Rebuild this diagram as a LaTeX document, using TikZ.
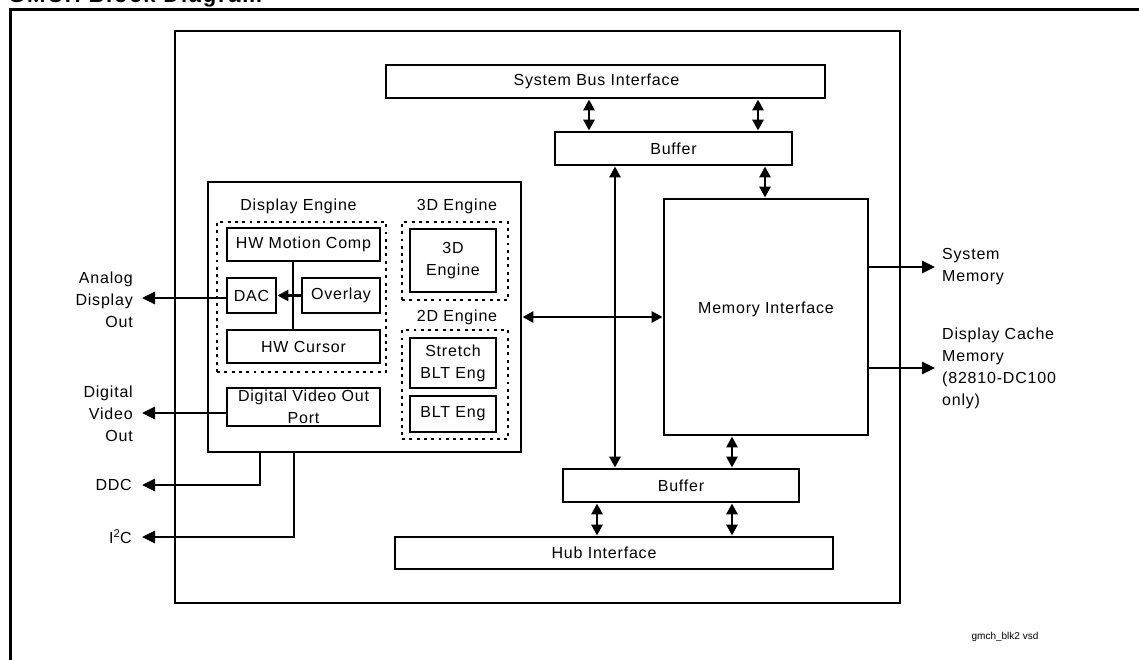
\documentclass[tikz,border=0pt]{standalone}
\usepackage{fontspec}
\setmainfont{Liberation Sans}[LetterSpace=5]
\usetikzlibrary{arrows.meta,calc}
\begin{document}
\begin{tikzpicture}[x=1pt,y=-1pt,
  lw/.style={line width=2.9pt},
  box/.style={draw, lw, rectangle, inner sep=0pt, align=center, font=\fontsize{16}{22}\selectfont},
  lab/.style={inner sep=0pt, font=\fontsize{16}{22}\selectfont},
  dotbox/.style={draw, line width=2.9pt, dash pattern=on 2.9pt off 4.4pt, rectangle, inner sep=0pt},
  arr/.style={lw, -{Triangle[length=13pt,width=12pt]}},
  dbl/.style={lw, {Triangle[length=11pt,width=11pt]}-{Triangle[length=11pt,width=11pt]}},
  sarr/.style={lw, -{Triangle[length=11pt,width=11pt]}}
]
\useasboundingbox (0,0) rectangle (1139,660);
\clip (0,0) rectangle (1139,660);
% title (cut off at top, as in the reference)
\node[anchor=base west, inner sep=0pt, font=\bfseries\fontsize{22}{22}\selectfont\addfontfeature{LetterSpace=8}] (title) at (8,2.5) {GMCH Block Diagram};
% outer frame
\draw[line width=3pt] (1150,9.5) -- (10,9.5) -- (10,670);
% chip
\node[box, minimum width=725pt, minimum height=572pt] (chip) at (537.5,317) {};
% top and bottom blocks
\node[box, minimum width=439pt, minimum height=33pt] (sbi) at (605.5,81.5) {};
\node[lab] at ($(sbi.center)+(-9,0)$) {System Bus Interface};
\node[box, minimum width=237pt, minimum height=33pt] (buf1) at (673.5,148.5) {Buffer};
\node[box, minimum width=204pt, minimum height=236pt] (mem) at (766,317) {};
\node[lab] (memlbl) at (766,309) {Memory Interface};
\node[box, minimum width=236pt, minimum height=33pt] (buf2) at (681,485.5) {Buffer};
\node[box, minimum width=438pt, minimum height=32pt] (hub) at (614,553) {};
\node[lab] at ($(hub.center)+(-10,0)$) {Hub Interface};
% display pipe
\node[box, minimum width=313pt, minimum height=270pt] (disp) at (364.5,317) {};
\node[lab] (delbl) at (298.5,206) {Display Engine};
\node[dotbox, minimum width=169pt, minimum height=150pt] (deg) at (301.5,297) {};
\node[box, minimum width=153pt, minimum height=33pt] (hwmc) at (303.5,244.5) {HW Motion Comp};
\node[box, minimum width=49pt, minimum height=35pt] (dac) at (251.5,295.5) {DAC};
\node[box, minimum width=78pt, minimum height=35pt] (ovl) at (341,295.5) {Overlay};
\node[box, minimum width=153pt, minimum height=33pt] (hwc) at (303.5,346.5) {HW Cursor};
\node[box, minimum width=153pt, minimum height=38pt] (dvo) at (303.5,407) {Digital Video Out\\Port};
\node[lab] (e3lbl) at (457,206) {3D Engine};
\node[dotbox, minimum width=106pt, minimum height=78pt] (e3g) at (455,261) {};
\node[box, minimum width=86pt, minimum height=63pt] (e3d) at (453,260.5) {3D\\Engine};
\node[lab] (e2lbl) at (457,317) {2D Engine};
\node[dotbox, minimum width=106pt, minimum height=109pt] (e2g) at (455,384.5) {};
\node[box, minimum width=86pt, minimum height=50pt] (sblt) at (453,363) {Stretch\\BLT Eng};
\node[box, minimum width=86pt, minimum height=36pt] (blt) at (453,414) {BLT Eng};
% helper coordinates
\coordinate (c589) at (589,0);
\coordinate (c758) at (758,0);
\coordinate (c765) at (765,0);
\coordinate (c615) at (615,0);
\coordinate (c732) at (732,0);
\coordinate (c597) at (597,0);
\coordinate (c293) at (293,0);
\coordinate (c260) at (260,0);
\coordinate (c294) at (294,0);
\coordinate (ltip) at (142,0);
\coordinate (rtip) at (935,0);
\coordinate (ya) at (0,298);
\coordinate (yd) at (0,413);
\coordinate (yddc) at (0,485);
\coordinate (yi2c) at (0,537);
\coordinate (ysm) at (0,267);
\coordinate (ydc) at (0,368);
% internal connectors
\draw[lw] (hwmc.south -| c293) -- (hwc.north -| c293);
\draw[sarr] (ovl.west) -- (dac.east);
\draw[dbl] (sbi.south -| c589) -- (buf1.north -| c589);
\draw[dbl] (sbi.south -| c758) -- (buf1.north -| c758);
\draw[dbl] (buf1.south -| c765) -- (mem.north -| c765);
\draw[dbl] (buf1.south -| c615) -- (buf2.north -| c615);
\draw[dbl] (disp.east) -- (mem.west);
\draw[dbl] (mem.south -| c732) -- (buf2.north -| c732);
\draw[dbl] (buf2.south -| c597) -- (hub.north -| c597);
\draw[dbl] (buf2.south -| c732) -- (hub.north -| c732);
% outputs left
\draw[arr] (dac.west |- ya) -- (ltip |- ya);
\draw[arr] (dvo.west |- yd) -- (ltip |- yd);
\draw[arr] (disp.south -| c260) |- (ltip |- yddc);
\draw[arr] (disp.south -| c294) |- (ltip |- yi2c);
\node[lab, anchor=east, align=right] (ado) at (133,300) {Analog\\Display\\Out};
\node[lab, anchor=east, align=right] (dvout) at (133,414) {Digital\\Video\\Out};
\node[lab, anchor=east] (ddc) at (132,485) {DDC};
\node[lab, anchor=east] (i2c) at (132,537) {I\textsuperscript{2}C};
% outputs right
\draw[arr] (mem.east |- ysm) -- (rtip |- ysm);
\draw[arr] (mem.east |- ydc) -- (rtip |- ydc);
\node[lab, anchor=west, align=left] (sysm) at (942,267) {System\\Memory};
\node[lab, anchor=west, align=left] (dcm) at (942,368.5) {Display Cache\\Memory\\(82810-DC100\\only)};
% file name
\node[inner sep=0pt, font=\fontsize{10}{12}\selectfont\addfontfeature{LetterSpace=0}] (fname) at (1005,637) {gmch\_blk2 vsd};
\end{tikzpicture}
\end{document}
